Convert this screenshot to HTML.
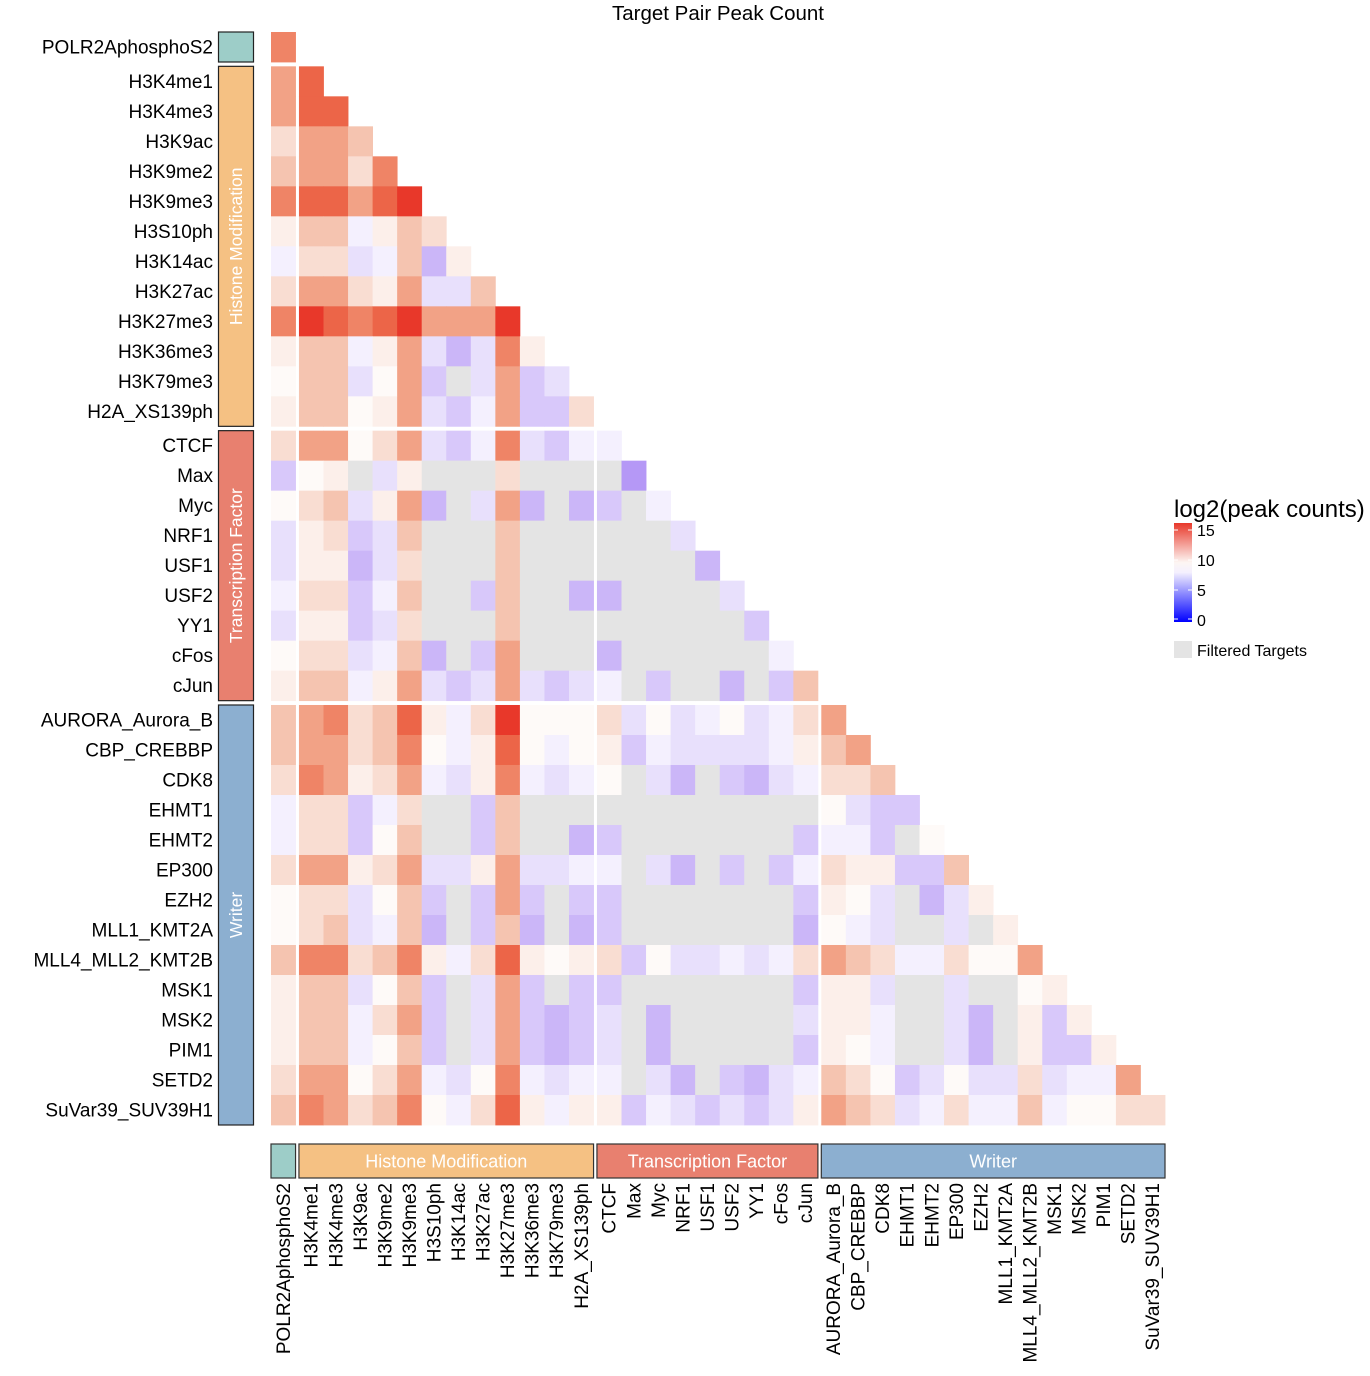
<!DOCTYPE html>
<html><head><meta charset="utf-8"><style>
html,body{margin:0;padding:0;background:#fff;}
svg{display:block;font-family:"Liberation Sans",Arial,sans-serif;}
</style></head><body>
<svg id="s" width="1370" height="1376" xmlns="http://www.w3.org/2000/svg">
<defs><linearGradient id="cb" x1="0" y1="0" x2="0" y2="1">
<stop offset="0" stop-color="#e8382a"/><stop offset="0.4" stop-color="#fdf6f3"/><stop offset="0.5" stop-color="#f4f0fe"/><stop offset="1" stop-color="#0000ff"/>
</linearGradient></defs>
<text x="718" y="20" font-size="20.5" text-anchor="middle">Target Pair Peak Count</text>
<text x="1174" y="517" font-size="24">log2(peak counts)</text>
<rect x="1174" y="523" width="18" height="99" fill="url(#cb)"/>
<g stroke="#fff" stroke-width="1"><line x1="1174" y1="530" x2="1178" y2="530"/><line x1="1188" y1="530" x2="1192" y2="530"/><line x1="1174" y1="560" x2="1178" y2="560"/><line x1="1188" y1="560" x2="1192" y2="560"/><line x1="1174" y1="590" x2="1178" y2="590"/><line x1="1188" y1="590" x2="1192" y2="590"/><line x1="1174" y1="619" x2="1178" y2="619"/><line x1="1188" y1="619" x2="1192" y2="619"/></g>
<g font-size="16"><text x="1197" y="536">15</text><text x="1197" y="566">10</text><text x="1197" y="596">5</text><text x="1197" y="626">0</text>
<rect x="1174" y="641" width="18" height="17" fill="#e4e4e4"/><text x="1197" y="656">Filtered Targets</text></g>
<g id="g"></g>
</svg>
<script>
var names=["POLR2AphosphoS2","H3K4me1","H3K4me3","H3K9ac","H3K9me2","H3K9me3","H3S10ph","H3K14ac","H3K27ac","H3K27me3","H3K36me3","H3K79me3","H2A_XS139ph","CTCF","Max","Myc","NRF1","USF1","USF2","YY1","cFos","cJun","AURORA_Aurora_B","CBP_CREBBP","CDK8","EHMT1","EHMT2","EP300","EZH2","MLL1_KMT2A","MLL4_MLL2_KMT2B","MSK1","MSK2","PIM1","SETD2","SuVar39_SUV39H1"];
var seg=[["s"],["o","r"],["o","rr"],["q","oop"],["p","ooqs"],["s","rrorR"],["e","pplepq"],["l","qqvlpbe"],["q","ooqeovvp"],["s","RrsrRoooR"],["e","ppleovbvse"],["w","ppvwomgvomv"],["e","ppweovmlommq"],
["q","oowqovmlsvml","l"],["m","wegvegggqggg","gB"],["w","qpveobgvobgb","mgl"],["v","eqmvpgggpggg","gggv"],["v","eebvqgggpggg","ggggb"],["l","qqmlpggmpggb","bggggv"],["v","eemvqgggpggg","ggggggm"],["w","qqvlpbgmoggg","bggggggl"],["e","ppleovmvovmv","lgmggbgmp"],
["p","osqprelqRwww","qvwvlwvlq","o"],["p","ooqpswlerwlw","emlvvvvle","po"],["q","soeqolveslvl","wgvbgmbvl","qqp"],["l","qqmlqggmpggg","ggggggggg","wvmm"],["l","qqmwpggmpggb","mgggggggm","llmg"],["q","ooeqovveovvl","lgvbgmgml","qeemmp"],["w","qqvwpmgmomgm","mgggggggm","ewvgbve"],["w","qpvlpbgmpbgb","mgggggggb","wlvggvge"],["p","ssqpselqrewe","qmwvvlvlq","opqllqwwo"],["e","ppvwpmgvomgm","mgggggggm","eevggvggwe"],["e","pplqomgvombm","vgbgggggv","eelggvbgeme"],["e","pplwpmgvombm","vgbgggggm","ewlggvbgemme"],["q","oowqolvwslvl","lgvbgmbvl","pqwmvwvvqvllo"],["p","soqpswlqrele","emlvmvmve","opqvlqllplwwqq"]];
var pal={R:"#e8382a",r:"#ec6548",s:"#ef8466",o:"#f2a286",p:"#f5c4b0",q:"#f9ddd2",e:"#fcefea",w:"#fefaf8",l:"#f4f0fe",v:"#e8e0fc",m:"#d8c8fa",b:"#cbb6f8",B:"#b598f6",g:"#e4e4e4"};
function grp(i){return i==0?0:i<13?1:i<22?2:3;}
var W=24.55,GX=3.4,H=30,GY=4.33;
function cx(j){return 271+j*W+grp(j)*GX;}
function ry(i){return 32+i*H+grp(i)*GY;}
var h="";
for(var i=0;i<36;i++){var r=seg[i].join("");while(r.length<i+1)r+="w";
for(var j=0;j<=i;j++){h+='<rect x="'+cx(j).toFixed(2)+'" y="'+ry(i).toFixed(2)+'" width="'+(W+0.4)+'" height="'+(H+0.4)+'" fill="'+(pal[r[j]]||"#fefaf8")+'"/>';}
h+='<text x="213" y="'+(ry(i)+21.5).toFixed(1)+'" font-size="19" text-anchor="end">'+names[i]+'</text>';
var x=cx(i)+W/2+6.5;h+='<text transform="translate('+x.toFixed(1)+',1183) rotate(-90)" font-size="19" text-anchor="end">'+names[i]+'</text>';}
var G=[[0,0,"#9dcdc8",""],[1,12,"#f5c183","Histone Modification"],[13,21,"#e8806f","Transcription Factor"],[22,35,"#8cafd0","Writer"]];
G.forEach(function(g){var y0=ry(g[0]),y1=ry(g[1])+H;h+='<rect x="218.5" y="'+y0+'" width="35" height="'+(y1-y0)+'" fill="'+g[2]+'" stroke="#222" stroke-width="1.2"/>';
if(g[3])h+='<text transform="translate(242,'+((y0+y1)/2)+') rotate(-90)" font-size="17.5" fill="#fff" text-anchor="middle">'+g[3]+'</text>';
var x0=cx(g[0]),x1=cx(g[1])+W;h+='<rect x="'+x0+'" y="1144" width="'+(x1-x0)+'" height="34" fill="'+g[2]+'" stroke="#333" stroke-width="1.2"/>';
if(g[3])h+='<text x="'+((x0+x1)/2)+'" y="1167.5" font-size="18" fill="#fff" text-anchor="middle">'+g[3]+'</text>';});
document.getElementById("g").innerHTML=h;
</script>
</body></html>
